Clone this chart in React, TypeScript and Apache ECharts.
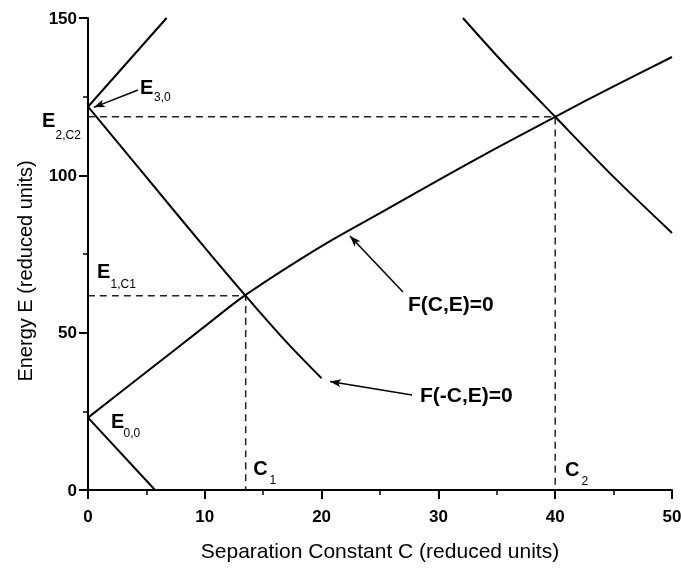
import React, { useEffect, useRef } from 'react';
import * as echarts from 'echarts';

// Curves (C, E) in reduced units
const curveFCE: number[][] = [[0, 23], [5, 37.5], [10, 52], [13.5, 62], [20, 77.5], [25, 88], [30, 98.5], [35, 108.7], [40, 118.6], [45, 128.3], [50, 137.6]];
const curveFmCE: number[][] = [[0, 121.8], [5, 99.4], [10, 77], [13.5, 61.7], [17, 47], [20, 35.5]];
const curveE30: number[][] = [[0, 121.8], [6.73, 150]];
const curveE00: number[][] = [[0, 23], [5.74, 0]];
const curveRight: number[][] = [[32.1, 150], [35.5, 136], [40, 118.6], [45, 99.5], [50, 81.7]];

// Dashed guide lines
const guideC2: number[][] = [[0, 118.6], [40, 118.6], [40, 0]];
const guideC1: number[][] = [[0, 61.7], [13.5, 61.7], [13.5, 0]];

// Arrows: [from, to] in data coordinates
const arrows: number[][][] = [
  [[4.28, 127.1], [0.5, 121.6]],
  [[26.97, 62.9], [22.43, 80.7]],
  [[27.74, 30.2], [20.72, 34.5]],
];

// Annotation labels: main text at `at`, subscript at `subAt` (data coords)
const labels = [
  { main: 'E', sub: '3,0', at: [4.45, 128.2], subAt: [5.65, 124.9] },
  { main: 'E', sub: '2,C2', at: [-3.94, 117.6], subAt: [-2.78, 112.8] },
  { main: 'E', sub: '1,C1', at: [0.77, 69.7], subAt: [1.93, 65.6] },
  { main: 'E', sub: '0,0', at: [1.97, 22.0], subAt: [3.04, 18.0] },
  { main: 'C', sub: '1', at: [14.15, 7.15], subAt: [15.54, 3.08] },
  { main: 'C', sub: '2', at: [40.84, 6.67], subAt: [42.25, 2.86] },
  { main: 'F(C,E)=0', sub: '', at: [27.4, 59.4], subAt: [0, 0] },
  { main: 'F(-C,E)=0', sub: '', at: [28.42, 30.2], subAt: [0, 0] },
];

const FONT = "'Liberation Sans', Arial, Helvetica, sans-serif";

export default function App() {
  const ref = useRef<HTMLDivElement>(null);
  useEffect(() => {
    const chart = echarts.init(ref.current!, null, { renderer: 'svg' });
    const curveStyle = { color: '#000', width: 2 };
    const dashStyle = { color: '#222', width: 1.5, type: [7, 5] as any };
    const mkCurve = (name: string, data: number[][], style: any) => ({
      name,
      type: 'line',
      data,
      smooth: 0.3,
      symbol: 'none',
      lineStyle: style,
      silent: true,
    });
    chart.setOption({
      animation: false,
      grid: { left: 88, right: 9, top: 18, bottom: 78, containLabel: false, outerBoundsMode: 'none' },
      xAxis: {
        type: 'value',
        min: 0,
        max: 50,
        interval: 10,
        axisLine: { show: true, onZero: false, lineStyle: { color: '#000', width: 2 } },
        axisTick: { show: true, length: 9, lineStyle: { color: '#000', width: 2 } },
        minorTick: { show: true, splitNumber: 2, length: 5, lineStyle: { color: '#000', width: 1.5 } },
        splitLine: { show: false },
        axisLabel: { margin: 18, fontSize: 17, fontWeight: 'bold', color: '#000', fontFamily: FONT },
        name: 'Separation Constant C (reduced units)',
        nameLocation: 'middle',
        nameGap: 50,
        nameTextStyle: { fontSize: 21, color: '#000', fontFamily: FONT },
      },
      yAxis: {
        type: 'value',
        min: 0,
        max: 150,
        interval: 50,
        axisLine: { show: true, onZero: false, lineStyle: { color: '#000', width: 2 } },
        axisTick: { show: true, length: 9, lineStyle: { color: '#000', width: 2 } },
        minorTick: { show: true, splitNumber: 2, length: 5, lineStyle: { color: '#000', width: 1.5 } },
        splitLine: { show: false },
        axisLabel: { margin: 11, fontSize: 17, fontWeight: 'bold', color: '#000', fontFamily: FONT },
        name: 'Energy E (reduced units)',
        nameLocation: 'middle',
        nameGap: 53,
        nameTextStyle: { fontSize: 20, color: '#000', fontFamily: FONT, padding: [0, 34, 0, 0] },
      },
      series: [
        mkCurve('guideC2', guideC2, dashStyle),
        mkCurve('guideC1', guideC1, dashStyle),
        mkCurve('F(C,E)=0', curveFCE, curveStyle),
        mkCurve('F(-C,E)=0', curveFmCE, curveStyle),
        mkCurve('E30', curveE30, curveStyle),
        mkCurve('E00', curveE00, curveStyle),
        mkCurve('right', curveRight, curveStyle),
        {
          name: 'arrows',
          type: 'line',
          data: [],
          markLine: {
            silent: true,
            animation: false,
            symbol: ['none', 'arrow'],
            symbolSize: [6, 11],
            label: { show: false },
            lineStyle: { color: '#000', width: 1.5, type: 'solid' },
            data: arrows.map(([a, b]) => [{ coord: a }, { coord: b }]),
          },
        },
      ],
    });

    const toPx = (p: number[]) => chart.convertToPixel({ gridIndex: 0 }, p) as number[];
    const graphic: any[] = [];
    labels.forEach((l) => {
      const p = toPx(l.at);
      const big = l.sub ? 20 : 21;
      graphic.push({
        type: 'text',
        x: p[0],
        y: p[1],
        silent: true,
        style: {
          text: l.main,
          fontSize: big,
          fontWeight: 'bold',
          fontFamily: FONT,
          fill: '#000',
          align: 'left',
          verticalAlign: 'middle',
        },
      });
      if (l.sub) {
        const s = toPx(l.subAt);
        graphic.push({
          type: 'text',
          x: s[0],
          y: s[1],
          silent: true,
          style: {
            text: l.sub,
            fontSize: 12,
            fontFamily: FONT,
            fill: '#000',
            align: 'left',
            verticalAlign: 'middle',
          },
        });
      }
    });
    chart.setOption({ graphic });
    return () => chart.dispose();
  }, []);
  return <div ref={ref} style={{ position: 'fixed', left: 0, top: 0, width: 681, height: 568 }} />;
}
